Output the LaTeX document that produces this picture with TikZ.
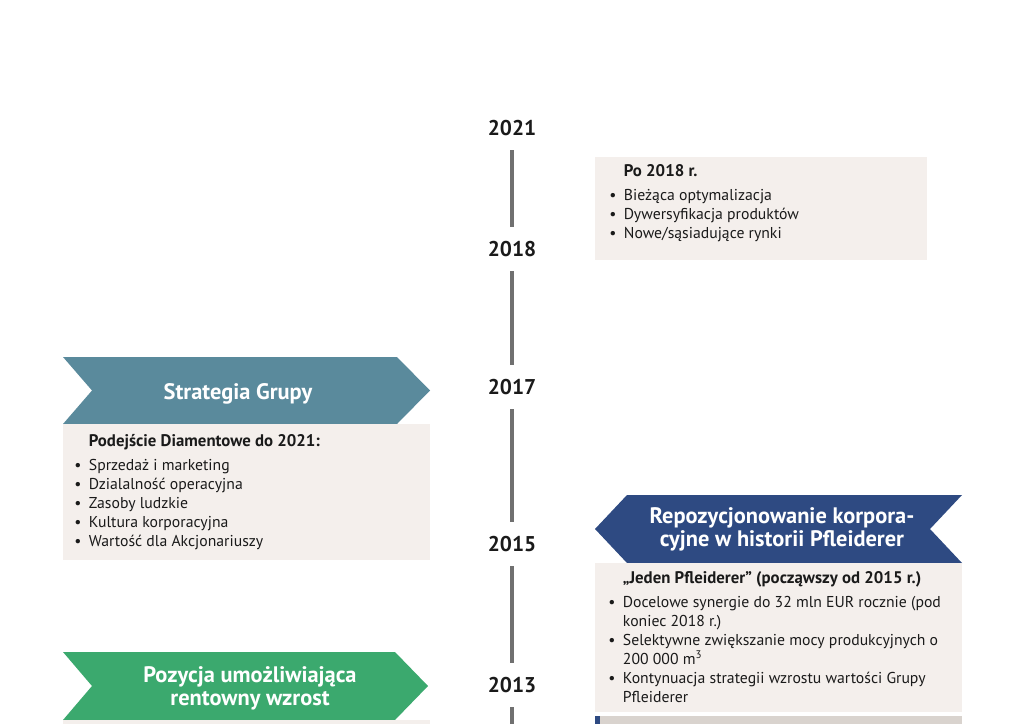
\documentclass[tikz,border=0pt]{standalone}
\usepackage{fontspec}
\setmainfont{PT Sans}
\definecolor{teal1}{HTML}{5A8A9C}
\definecolor{navy1}{HTML}{2E4A82}
\definecolor{green1}{HTML}{3BA96E}
\definecolor{bodyc}{HTML}{F4EFEC}
\definecolor{barc}{HTML}{D9D3CE}
\definecolor{linec}{HTML}{707070}
\definecolor{textc}{HTML}{1A1A1A}
\newcommand\bul{\makebox[11pt][l]{•}}
\newcommand\ind{\hspace*{11pt}}
\newcommand\hd[1]{{\fontsize{12.6}{14}\selectfont\bfseries #1}}
\begin{document}
\begin{tikzpicture}[x=0.75pt,y=-0.75pt]
\tikzset{
  yearlbl/.style={font=\fontsize{16}{18}\selectfont\bfseries, text=textc, minimum height=33pt, inner sep=0pt},
  tl/.style={draw=linec, line width=2.3pt},
  bodytext/.style={font=\fontsize{11.8}{14.25}\selectfont, text=textc, align=left, anchor=base west, inner sep=0pt},
  arrowtext/.style={font=\fontsize{16.8}{17.25}\selectfont\bfseries, text=white, align=center, inner sep=0pt},
  bodybox/.style={fill=bodyc},
}
\useasboundingbox (0,0) rectangle (1024,724);
\fill[white] (0,0) rectangle (1024,724);

% timeline
\node[yearlbl] (y2021) at (512,128) {2021};
\node[yearlbl] (y2018) at (512,249) {2018};
\node[yearlbl] (y2017) at (512,387) {2017};
\node[yearlbl] (y2015) at (512,544) {2015};
\node[yearlbl] (y2013) at (512,685) {2013};
\coordinate (tend) at (512,724);
\draw[tl] (y2021.south) -- (y2018.north);
\draw[tl] (y2018.south) -- (y2017.north);
\draw[tl] (y2017.south) -- (y2015.north);
\draw[tl] (y2015.south) -- (y2013.north);
\draw[tl] (y2013.south) -- (tend);

% top right box
\fill[bodybox] (595,157) rectangle (927,260);
\node[bodytext] (po2018) at (609,238.5) {\ind\hd{Po 2018 r.}\\[3.4pt]
\bul Bieżąca optymalizacja\\
\bul Dywersyfikacja produktów\\
\bul Nowe/sąsiadujące rynki};

% Strategia Grupy
\fill[teal1] (63,357) -- (397,357) -- (430,390.5) -- (397,424) -- (63,424) -- (92,390.5) -- cycle;
\node[arrowtext] (strat) at (238,394) {Strategia Grupy};
\fill[bodybox] (63,424) rectangle (430,560);
\node[bodytext] (diam) at (74,546) {\ind\hd{Podejście Diamentowe do 2021:}\\[3.4pt]
\bul Sprzedaż i marketing\\
\bul Dzialalność operacyjna\\
\bul Zasoby ludzkie\\
\bul Kultura korporacyjna\\
\bul Wartość dla Akcjonariuszy};

% Repozycjonowanie
\fill[navy1] (595,529) -- (627,495) -- (962,495) -- (930,529) -- (962,563) -- (627,563) -- cycle;
\node[arrowtext] (repo) at (782,529.5) {Repozycjonowanie korpora-\\cyjne w historii Pfleiderer};
\fill[bodybox] (595,563) rectangle (962,712);
\node[bodytext] (jeden) at (608,702) {\ind\hd{„Jeden Pfleiderer” (począwszy od 2015 r.)}\\[3.4pt]
\bul Docelowe synergie do 32 mln EUR rocznie (pod\\
\ind koniec 2018 r.)\\
\bul Selektywne zwiększanie mocy produkcyjnych o\\
\ind 200 000 m\textsuperscript{3}\\
\bul Kontynuacja strategii wzrostu wartości Grupy\\
\ind Pfleiderer};
\fill[barc] (595,716) rectangle (962,724);
\fill[navy1] (595,716) rectangle (600,724);

% Pozycja
\fill[green1] (63,652) -- (395,652) -- (428,686) -- (395,720) -- (63,720) -- (92,686) -- cycle;
\node[arrowtext] (poz) at (250,688.5) {Pozycja umożliwiająca\\rentowny wzrost};
\fill[bodybox] (63,720) rectangle (430,724);
\end{tikzpicture}
\end{document}
